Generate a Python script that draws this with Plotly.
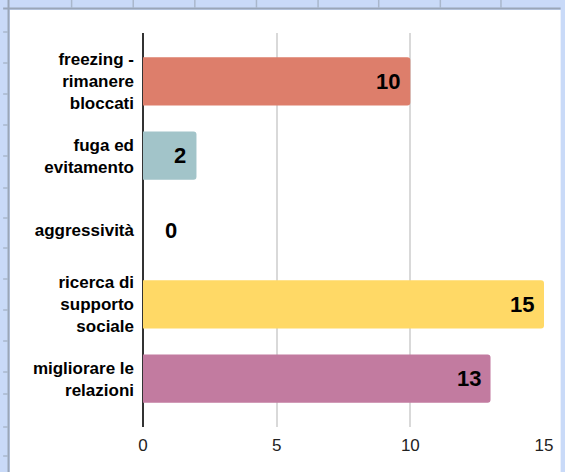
import plotly.graph_objects as go

categories = ["freezing -<br>rimanere<br>bloccati", "fuga ed<br>evitamento", "aggressività",
              "ricerca di<br>supporto<br>sociale", "migliorare le<br>relazioni"]
values = [10, 2, 0, 15, 13]
bar_colors = ["#dd7e6b", "#a2c4c9", "#b4a7d6", "#ffd966", "#c27ba0"]
x_ticks = [0, 5, 10, 15]

W, H = 565, 472
L, R, T, B = 143, 12, 33, 45
pw, ph = W - L - R, H - T - B


def px_x(p):
    return (p - L) / pw


def px_y(p):
    return (H - B - p) / ph


FONT = "Liberation Sans, Arial, sans-serif"

fig = go.Figure(go.Bar(
    orientation="h", y=categories, x=values, width=0.65,
    marker=dict(color=bar_colors, line=dict(width=0)),
    hoverinfo="skip",
))
fig.update_layout(barcornerradius=3)

# value labels
annotations = []
for cat, v in zip(categories, values):
    if v > 0:
        annotations.append(dict(x=v, y=cat, text=f"<b>{v}</b>", showarrow=False,
                                xanchor="right", xshift=-8,
                                font=dict(family=FONT, size=22, color="#000")))
    else:
        annotations.append(dict(x=v, y=cat, text=f"<b>{v}</b>", showarrow=False,
                                xanchor="left", xshift=20,
                                font=dict(family=FONT, size=22, color="#000")))

# spreadsheet background decoration
grid_c = "#a9b7cc"
shapes = [dict(type="rect", xref="paper", yref="paper", x0=px_x(7), x1=px_x(W + 5),
               y0=px_y(H + 5), y1=px_y(10), fillcolor="white", line=dict(width=0), layer="below"),
          dict(type="line", xref="paper", yref="paper", x0=px_x(5.5), x1=px_x(5.5),
               y0=px_y(H + 5), y1=px_y(0), line=dict(color="#9aa6b8", width=2), layer="below"),
          dict(type="line", xref="paper", yref="paper", x0=px_x(0), x1=px_x(W + 5),
               y0=px_y(8.5), y1=px_y(8.5), line=dict(color="#9aa6b8", width=2), layer="below")]
for xp in [70, 133, 196, 259, 322, 384, 447, 509]:
    shapes.append(dict(type="line", xref="paper", yref="paper", x0=px_x(xp), x1=px_x(xp),
                       y0=px_y(8), y1=px_y(0), line=dict(color=grid_c, width=1.5), layer="below"))
for yp in [32, 63, 94, 125, 156, 188, 218, 248, 279, 310, 341, 372, 394, 427, 456]:
    shapes.append(dict(type="line", xref="paper", yref="paper", x0=px_x(0), x1=px_x(5),
                       y0=px_y(yp), y1=px_y(yp), line=dict(color=grid_c, width=1.5), layer="below"))

fig.update_layout(
    width=W, height=H,
    margin=dict(l=L, r=R, t=T, b=B),
    paper_bgcolor="#c9daf8",
    plot_bgcolor="rgba(0,0,0,0)",
    showlegend=False,
    annotations=annotations,
    shapes=shapes,
    font=dict(family=FONT),
    xaxis=dict(range=[0, 15], tickvals=x_ticks, showgrid=True, gridcolor="#d9d9d9", gridwidth=1.5,
               zeroline=True, zerolinecolor="#333333", zerolinewidth=1.5,
               tickfont=dict(size=17, color="#222"), ticklabelstandoff=6, fixedrange=True),
    yaxis=dict(range=[4.65, -0.65], showgrid=False, zeroline=False,
               tickfont=dict(size=17, color="#000", weight="bold"), ticklabelstandoff=8,
               fixedrange=True),
)

fig.write_html("out.html", config={"displayModeBar": False},
               post_script="document.body.style.margin='0';document.body.style.overflow='hidden';")
